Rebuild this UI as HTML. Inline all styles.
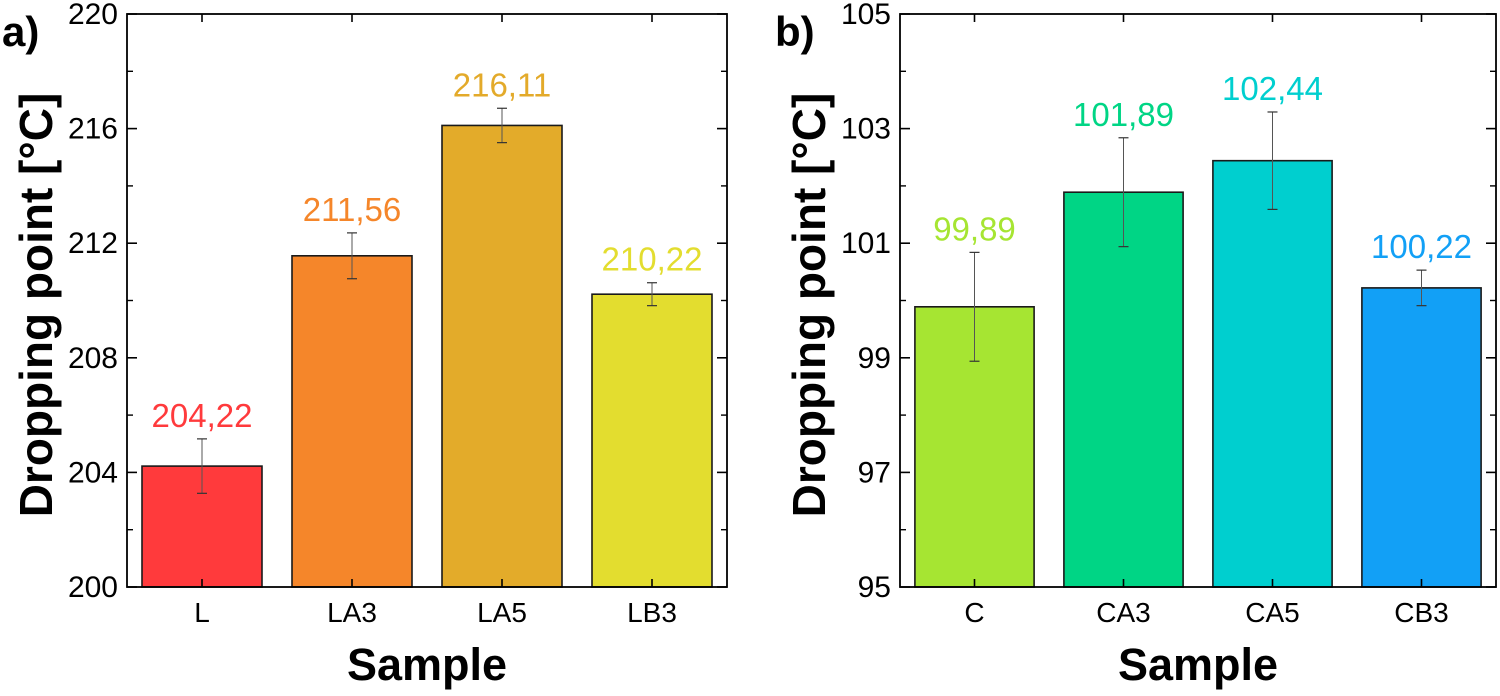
<!DOCTYPE html>
<html><head><meta charset="utf-8"><style>
html,body{margin:0;padding:0;background:#fff}
svg{display:block;font-family:"Liberation Sans",Arial,sans-serif}
</style></head><body>
<svg id="chart" width="1500" height="696" viewBox="0 0 1500 696" xmlns="http://www.w3.org/2000/svg"></svg>
<script>
const catsA=["L","LA3","LA5","LB3"];
const valsA=[204.22,211.56,216.11,210.22];
const errA=[0.95,0.8,0.6,0.4];
const labelsA=["204,22","211,56","216,11","210,22"];
const colorsA=["#FF3A3C","#F5862A","#E3AB2A","#E3DD2F"];
const textColorsA=["#FF3A3C","#F5862A","#E3AA2A","#E3DD2F"];
const ticksA=[200,204,208,212,216,220];

const catsB=["C","CA3","CA5","CB3"];
const valsB=[99.89,101.89,102.44,100.22];
const errB=[0.95,0.95,0.85,0.31];
const labelsB=["99,89","101,89","102,44","100,22"];
const colorsB=["#A6E532","#00D585","#00CFCF","#12A0F6"];
const textColorsB=["#A6E532","#00D585","#00CFCF","#12A0F6"];
const ticksB=[95,97,99,101,103,105];

const NS="http://www.w3.org/2000/svg";
const svg=document.getElementById('chart');
function mk(tag,attrs,parent,text){
  const e=document.createElementNS(NS,tag);
  for(const k in attrs)e.setAttribute(k,attrs[k]);
  if(text!==undefined)e.textContent=text;
  (parent||svg).appendChild(e);return e;
}
function panel(id,letter,left,right,ymin,ymax,cats,vals,errs,labels,cols,tcols,ticks){
  const top=14,bottom=587;
  const g=mk('g',{});
  
  
  const y=v=>bottom-(v-ymin)/(ymax-ymin)*(bottom-top);
  const step=(right-left)/cats.length;
  const x=i=>left+step*(i+0.5);
  const bw=step*0.8;
  cats.forEach((c,i)=>{
    const r=mk('rect',{x:x(i)-bw/2,y:y(vals[i]),width:bw,height:bottom-y(vals[i]),fill:cols[i],stroke:'#1a1a1a','stroke-width':1.6},g);
    
    
    const eb=mk('g',{},g);
    
    
    const yt=y(vals[i]+errs[i]),yb=y(vals[i]-errs[i]);
    mk('line',{x1:x(i),x2:x(i),y1:yt,y2:yb,stroke:'#555','stroke-width':1},eb);
    mk('line',{x1:x(i)-5,x2:x(i)+5,y1:yt,y2:yt,stroke:'#333','stroke-width':1.2},eb);
    mk('line',{x1:x(i)-5,x2:x(i)+5,y1:yb,y2:yb,stroke:'#333','stroke-width':1.2},eb);
    const t=mk('text',{x:x(i),y:yt-12,'text-anchor':'middle','font-size':33,fill:tcols[i]},g,labels[i]);
    
    
    mk('line',{x1:x(i),x2:x(i),y1:bottom,y2:bottom-8,stroke:'#000','stroke-width':1.6},g);
    const xl=mk('text',{x:x(i),y:bottom+35,'text-anchor':'middle','font-size':28,fill:'#000'},g,c);
    
    
  });
  ticks.forEach((v,i)=>{
    mk('line',{x1:left,x2:left+10,y1:y(v),y2:y(v),stroke:'#000','stroke-width':1.6},g);
    mk('line',{x1:right,x2:right-10,y1:y(v),y2:y(v),stroke:'#000','stroke-width':1.6},g);
    if(i<ticks.length-1){const m=(v+ticks[i+1])/2;
      mk('line',{x1:left,x2:left+6,y1:y(m),y2:y(m),stroke:'#000','stroke-width':1.4},g);
      mk('line',{x1:right,x2:right-6,y1:y(m),y2:y(m),stroke:'#000','stroke-width':1.4},g);}
    const tl=mk('text',{x:left-9,y:y(v)+10,'text-anchor':'end','font-size':30,fill:'#000'},g,String(v));
    
    
  });
  cats.forEach((c,i)=>mk('line',{x1:x(i),x2:x(i),y1:top,y2:top+8,stroke:'#000','stroke-width':1.6},g));
  const fr=mk('rect',{x:left,y:top,width:right-left,height:bottom-top,fill:'none',stroke:'#000','stroke-width':1.8},g);
  
  
  const xt=mk('text',{x:(left+right)/2,y:680,'text-anchor':'middle','font-size':45,'font-weight':'bold',fill:'#000'},g,'Sample');
  
  
  const yx=left-75, yc=305;
  const yt=mk('text',{x:yx,y:yc,'text-anchor':'middle','font-size':46,'font-weight':'bold',fill:'#000',transform:`rotate(-90 ${yx} ${yc})`},g,'Dropping point [°C]');
  
  
  const pl=mk('text',{x:left-125,y:46,'font-size':42,'font-weight':'bold',fill:'#000'},g,letter);
  
  
}
panel('a','a)',127,727,200,220,catsA,valsA,errA,labelsA,colorsA,textColorsA,ticksA);
panel('b','b)',900,1496,95,105,catsB,valsB,errB,labelsB,colorsB,textColorsB,ticksB);
</script>
</body></html>
